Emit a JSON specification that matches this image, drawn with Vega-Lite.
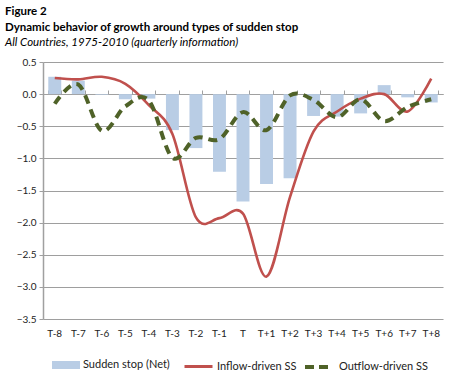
{
  "$schema": "https://vega.github.io/schema/vega-lite/v6.json",
  "width": 400,
  "height": 257,
  "autosize": {"type": "none"},
  "padding": {"left": 43, "top": 62, "right": 17, "bottom": 58},
  "background": "white",
  "config": {
    "font": "Lato",
    "view": {"stroke": null},
    "axisY": {
      "title": null, "grid": true, "gridColor": "#9E9E9E", "gridWidth": 1.2,
      "domainColor": "#A0A0A0", "domainWidth": 1.5, "tickColor": "#A0A0A0",
      "tickSize": 4, "labelPadding": 3, "labelFontSize": 10, "labelColor": "#222",
      "labelOverlap": false
    }
  },
  "title": {
    "text": ["Figure 2", "Dynamic behavior of growth around types of sudden stop"],
    "subtitle": "All Countries,  1975-2010  (quarterly information)",
    "anchor": "start",
    "frame": "group",
    "dx": -38,
    "fontSize": 11.5,
    "fontWeight": "bold",
    "lineHeight": 16,
    "color": "black",
    "subtitleFontSize": 11.5,
    "subtitleFontStyle": "italic",
    "subtitleColor": "black",
    "subtitlePadding": 3,
    "offset": 9
  },
  "data": {
    "values": [
      {"t": "T-8", "net": 0.27, "inflow": 0.25, "outflow": -0.15},
      {"t": "T-7", "net": 0.21, "inflow": 0.23, "outflow": 0.15},
      {"t": "T-6", "net": -0.01, "inflow": 0.27, "outflow": -0.57},
      {"t": "T-5", "net": -0.08, "inflow": 0.16, "outflow": -0.19},
      {"t": "T-4", "net": -0.07, "inflow": -0.17, "outflow": -0.1},
      {"t": "T-3", "net": -0.56, "inflow": -0.62, "outflow": -0.99},
      {"t": "T-2", "net": -0.84, "inflow": -1.92, "outflow": -0.68},
      {"t": "T-1", "net": -1.21, "inflow": -1.93, "outflow": -0.7},
      {"t": "T", "net": -1.67, "inflow": -1.86, "outflow": -0.28},
      {"t": "T+1", "net": -1.4, "inflow": -2.84, "outflow": -0.56},
      {"t": "T+2", "net": -1.31, "inflow": -1.6, "outflow": -0.02},
      {"t": "T+3", "net": -0.34, "inflow": -0.58, "outflow": -0.09},
      {"t": "T+4", "net": -0.35, "inflow": -0.27, "outflow": -0.36},
      {"t": "T+5", "net": -0.3, "inflow": -0.07, "outflow": -0.08},
      {"t": "T+6", "net": 0.14, "inflow": 0.0, "outflow": -0.42},
      {"t": "T+7", "net": -0.05, "inflow": -0.27, "outflow": -0.2},
      {"t": "T+8", "net": -0.13, "inflow": 0.24, "outflow": -0.08}
    ]
  },
  "layer": [
    {
      "transform": [{"fold": ["net"], "as": ["key", "value"]}],
      "mark": {"type": "bar"},
      "encoding": {
        "x": {
          "field": "t", "type": "ordinal", "sort": null,
          "scale": {"paddingInner": 0.45, "paddingOuter": 0.225},
          "axis": {
            "title": null, "orient": "bottom", "domain": false, "ticks": false, "grid": false,
            "labelAngle": 0, "labelPadding": 9, "labelFontSize": 10, "labelColor": "#222"
          }
        },
        "y": {
          "field": "value", "type": "quantitative",
          "scale": {"domain": [-3.5, 0.5], "nice": false, "zero": false},
          "axis": {"values": [-3.5, -3, -2.5, -2, -1.5, -1, -0.5, 0, 0.5], "format": ".1f", "grid": true}
        },
        "color": {
          "field": "key", "type": "nominal",
          "scale": {"domain": ["net"], "range": ["#B9CDE5"]},
          "legend": {
            "title": null, "orient": "none", "legendX": 9, "legendY": 289,
            "labelExpr": "'Sudden stop (Net)'",
            "symbolType": "M-1,-0.286H1V0.286H-1Z", "symbolSize": 784,
            "symbolStrokeWidth": 0, "labelFontSize": 11, "labelColor": "#222", "labelOffset": 3
          }
        }
      }
    },
    {
      "transform": [{"fold": ["inflow"], "as": ["key", "value"]}],
      "mark": {"type": "line", "interpolate": "cardinal", "strokeWidth": 2.6},
      "encoding": {
        "x": {
          "field": "t", "type": "ordinal", "sort": null,
          "axis": {
            "title": null, "orient": "top", "offset": -32, "labels": false, "grid": false,
            "tickBand": "extent", "tickSize": 4, "tickColor": "#A0A0A0",
            "domainColor": "#A0A0A0", "domainWidth": 1
          }
        },
        "y": {
          "field": "value", "type": "quantitative",
          "axis": {"values": [-3.5, -3, -2.5, -2, -1.5, -1, -0.5, 0, 0.5], "format": ".1f", "grid": true}
        },
        "color": {
          "field": "key", "type": "nominal",
          "scale": {"domain": ["inflow"], "range": ["#C0504D"]},
          "legend": {
            "title": null, "orient": "none", "legendX": 140, "legendY": 289,
            "labelExpr": "'Inflow-driven SS'",
            "symbolType": "stroke", "symbolSize": 784, "symbolStrokeWidth": 3,
            "labelFontSize": 11, "labelColor": "#222", "labelOffset": 3
          }
        }
      }
    },
    {
      "transform": [{"fold": ["outflow"], "as": ["key", "value"]}],
      "mark": {"type": "line", "interpolate": "cardinal", "strokeWidth": 4, "strokeDash": [9, 6]},
      "encoding": {
        "x": {"field": "t", "type": "ordinal", "sort": null, "axis": null},
        "y": {
          "field": "value", "type": "quantitative",
          "axis": {"values": [-3.5, -3, -2.5, -2, -1.5, -1, -0.5, 0, 0.5], "format": ".1f", "grid": true}
        },
        "color": {
          "field": "key", "type": "nominal",
          "scale": {"domain": ["outflow"], "range": ["#4F6228"]},
          "legend": {
            "title": null, "orient": "none", "legendX": 260, "legendY": 289,
            "labelExpr": "'Outflow-driven SS'",
            "symbolType": "stroke", "symbolSize": 784, "symbolStrokeWidth": 4,
            "symbolDash": [9, 5],
            "labelFontSize": 11, "labelColor": "#222", "labelOffset": 4
          }
        }
      }
    }
  ],
  "resolve": {"scale": {"color": "independent"}, "axis": {"x": "independent"}}
}
